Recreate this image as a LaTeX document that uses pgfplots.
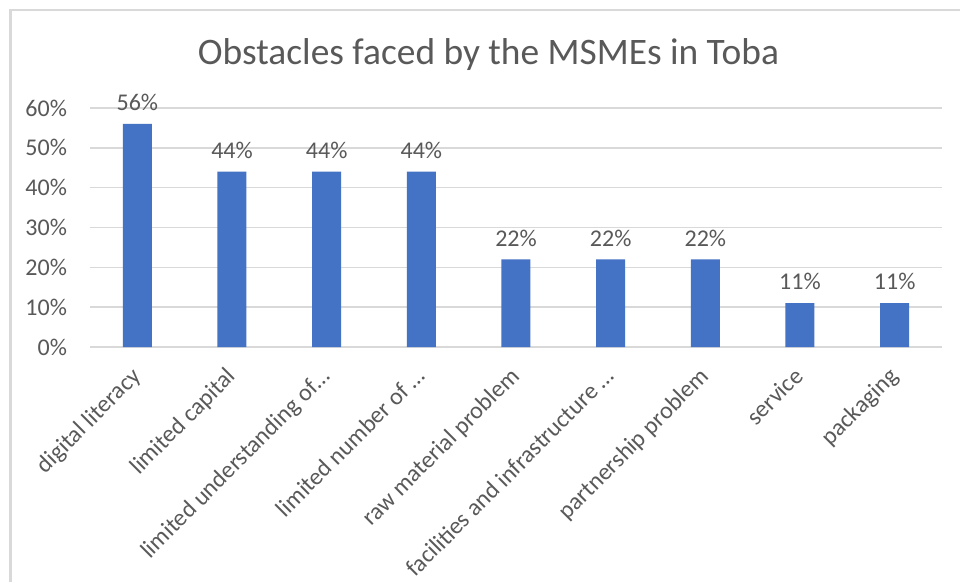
\documentclass[border=0pt]{standalone}
\usepackage{fontspec}
\setmainfont{Carlito}
\usepackage{pgfplots}
\pgfplotsset{compat=1.18}
\definecolor{barblue}{HTML}{4472C4}
\definecolor{txt}{HTML}{595959}
\definecolor{gridc}{HTML}{D9D9D9}
\begin{document}
\begin{tikzpicture}
\useasboundingbox (-45bp,-117.5bp) rectangle (435bp,173.5bp);
\fill[white] (-45bp,-117.5bp) rectangle (435bp,173.5bp);
\draw[gridc, line width=1.2bp] (-39.75bp,-118bp) -- (-39.75bp,168.5bp) -- (436bp,168.5bp);
\node[text=txt, font=\fontsize{18.7bp}{22bp}\selectfont] at (199.25bp,146bp) {Obstacles faced by the MSMEs in Toba};
\begin{axis}[
  at={(0,0)}, anchor=south west,
  scale only axis, width=426bp, height=119.5bp,
  xmin=-0.5, xmax=8.5, ymin=0, ymax=60,
  axis line style={draw=none},
  major tick length=0,
  ymajorgrids, grid style={gridc, line width=0.8bp},
  ytick={0,10,20,30,40,50,60},
  yticklabels={0\%,10\%,20\%,30\%,40\%,50\%,60\%},
  yticklabel style={font=\fontsize{12bp}{14bp}\selectfont, text=txt, xshift=-8bp},
  xtick=data,
  xticklabels={{digital literacy}, {limited capital}, {limited understanding of\ldots}, {limited number of \ldots}, {raw material problem}, {facilities and infrastructure \ldots}, {partnership problem}, {service}, {packaging}},
  xticklabel style={font=\fontsize{12bp}{14bp}\selectfont, text=txt, rotate=45, anchor=north east, xshift=-5.8bp, yshift=-0.7bp},
  /pgf/number format/assume math mode=true,
  nodes near coords={\pgfmathprintnumber{\pgfplotspointmeta}\%},
  nodes near coords style={font=\fontsize{12bp}{14bp}\selectfont, text=txt, anchor=south, yshift=3bp},
  clip=false,
]
\addplot[ybar, bar width=14.5bp, fill=barblue, draw=none] coordinates {
(0,56) (1,44) (2,44) (3,44) (4,22) (5,22) (6,22) (7,11) (8,11)};
\end{axis}
\end{tikzpicture}
\end{document}
